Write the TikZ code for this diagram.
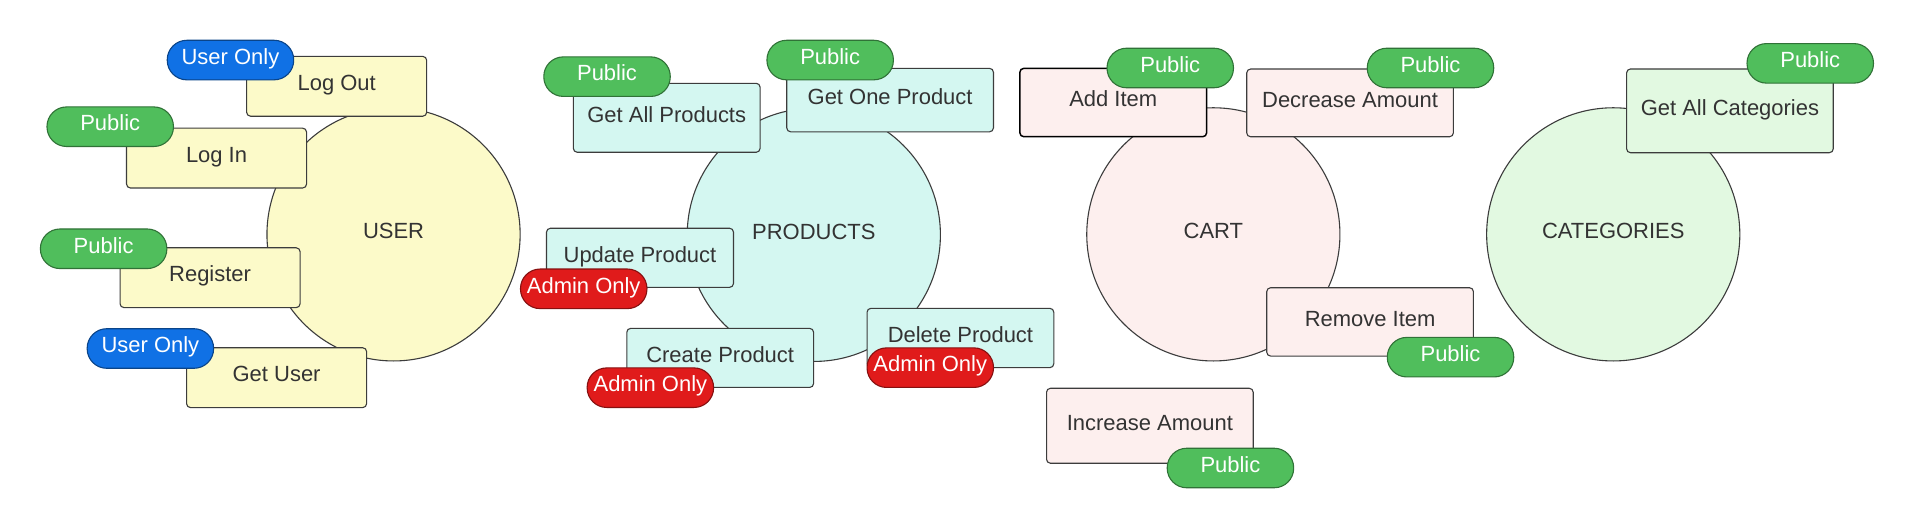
\documentclass[tikz,border=0pt]{standalone}
\usepackage{fontspec}
\setmainfont{Liberation Sans}

\definecolor{userfill}{HTML}{FCFAC9}
\definecolor{prodfill}{HTML}{D4F7F1}
\definecolor{cartfill}{HTML}{FDEFEE}
\definecolor{catfill}{HTML}{E2F9E1}
\definecolor{pubgreen}{HTML}{50BE5C}
\definecolor{usrblue}{HTML}{1071E5}
\definecolor{admred}{HTML}{E01B1B}
\definecolor{edgegray}{HTML}{3C3C3C}
\definecolor{inkgray}{HTML}{333333}

\tikzset{
	hub/.style={circle, draw=edgegray, line width=0.45pt, minimum size=103.7pt, inner sep=0pt, text=inkgray},
	route/.style 2 args={rectangle, draw=edgegray, line width=0.45pt, rounded corners=1.6pt, inner sep=0pt, text=inkgray, minimum width=#1, minimum height=#2},
	access/.style={rectangle, draw=#1!60!black, fill=#1, line width=0.45pt, rounded corners=8pt, minimum width=51.8pt, minimum height=16.2pt, inner sep=0pt, text=white},
}

\begin{document}
\begin{tikzpicture}[x=0.5pt, y=-0.5pt, font=\fontsize{9pt}{11pt}\selectfont, every node/.append style={text height=6.5pt, text depth=3pt}]
			%%%%% START %%%%%
			\useasboundingbox[fill=white] (0, 0) rectangle (1568, 433);
			
			%%%%% USER %%%%%
			\node[hub, fill=userfill] (user) at (322.4, 192) {USER};
			
			\node[route={73.75pt}{24.5pt}, fill=userfill] (logout) at (275.8, 70.7) {Log Out};
			\node[route={73.75pt}{24.5pt}, fill=userfill] (login) at (177.4, 129.5) {Log In};
			\node[route={73.75pt}{24.5pt}, fill=userfill] (register) at (172.1, 227.5) {Register};
			\node[route={73.75pt}{24.5pt}, fill=userfill] (getuser) at (226.6, 309.4) {Get User};
			
			\node[access=usrblue] (logoutTag) at (188.8, 49.2) {User Only};
			\node[access=pubgreen] (loginTag) at (90.3, 103.8) {Public};
			\node[access=pubgreen] (registerTag) at (84.9, 203.8) {Public};
			\node[access=usrblue] (getuserTag) at (123.2, 285.5) {User Only};
			
			%%%%% PRODUCTS %%%%%
			\node[hub, fill=prodfill] (products) at (666.7, 192.4) {PRODUCTS};
			
			\node[route={76.5pt}{28.25pt}, fill=prodfill] (getall) at (546.2, 96.5) {Get All Products};
			\node[route={84.65pt}{26pt}, fill=prodfill] (getone) at (729.2, 82) {Get One Product};
			\node[route={76.6pt}{24.2pt}, fill=prodfill] (update) at (524.3, 211.2) {Update Product};
			\node[route={76.5pt}{24.2pt}, fill=prodfill] (create) at (590, 293.2) {Create Product};
			\node[route={76.5pt}{24.3pt}, fill=prodfill] (delete) at (786.8, 276.9) {Delete Product};
			
			\node[access=pubgreen] (getallTag) at (497.3, 62.8) {Public};
			\node[access=pubgreen] (getoneTag) at (680.1, 49.2) {Public};
			\node[access=admred] (updateTag) at (478.2, 236.6) {Admin Only};
			\node[access=admred] (createTag) at (532.8, 317.6) {Admin Only};
			\node[access=admred] (deleteTag) at (762.1, 301.2) {Admin Only};
			
			%%%%% CART %%%%%
			\node[hub, fill=cartfill] (cart) at (994, 192) {CART};
			
			\node[route={76.5pt}{28pt}, fill=cartfill, draw=black, line width=0.6pt] (additem) at (912, 84) {Add Item};
			\node[route={84.65pt}{27.75pt}, fill=cartfill] (decrease) at (1106, 84.3) {Decrease Amount};
			\node[route={84.65pt}{28pt}, fill=cartfill] (remove) at (1122.4, 263.7) {Remove Item};
			\node[route={84.65pt}{30.7pt}, fill=cartfill] (increase) at (942, 348.8) {Increase Amount};
			
			\node[access=pubgreen] (additemTag) at (958.7, 55.7) {Public};
			\node[access=pubgreen] (decreaseTag) at (1171.9, 55.7) {Public};
			\node[access=pubgreen] (removeTag) at (1188.3, 292.6) {Public};
			\node[access=pubgreen] (increaseTag) at (1008, 383.4) {Public};
			
			%%%%% CATEGORIES %%%%%
			\node[hub, fill=catfill] (categories) at (1321.6, 192) {CATEGORIES};
			
			\node[route={84.65pt}{34.3pt}, fill=catfill] (getallcat) at (1417.2, 90.8) {Get All Categories};
			
			\node[access=pubgreen] (getallcatTag) at (1483, 51.9) {Public};
			
			%%%%% END %%%%%
\end{tikzpicture}
\end{document}
